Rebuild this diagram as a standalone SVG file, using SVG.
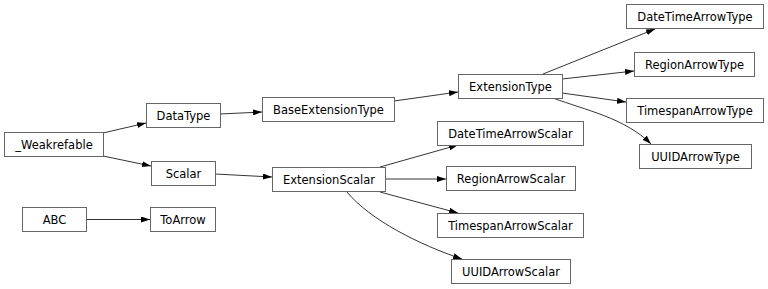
<svg xmlns="http://www.w3.org/2000/svg" width="768" height="289" viewBox="0 0 768 289">
<style>
.n rect{fill:#fff;stroke:#666;stroke-width:1}
.n text{font-family:"DejaVu Sans",sans-serif;font-size:11.5px;fill:#000;text-anchor:middle;dominant-baseline:central}
#edges path{fill:none;stroke:#000;stroke-width:0.8;marker-end:url(#ah)}
</style>
<defs>
<marker id="ah" viewBox="0 0 9 6" refX="9" refY="3" markerWidth="9" markerHeight="6" markerUnits="userSpaceOnUse" orient="auto">
<path d="M0,0 L9,3 L0,6 Z" fill="#000"/>
</marker>
</defs>
<rect width="768" height="289" fill="#fff"/>
<g id="edges">
<path d="M103,133 L146,123"/>
<path d="M103,156 L151,166"/>
<path d="M220,114 L262,112"/>
<path d="M215,174 L272,177"/>
<path d="M86,219.5 L150,219.5"/>
<path d="M394,101 L458,92"/>
<path d="M543,74 L655,29"/>
<path d="M562,79 L634,71"/>
<path d="M562,93 L626,102"/>
<path d="M553,98 C585,110 625,118 651,144"/>
<path d="M380,167 L458,145"/>
<path d="M385,179 L446,179"/>
<path d="M380,192 L458,213"/>
<path d="M347,192 C370,220 420,245 462,259"/>
</g>
<g id="Weakrefable" class="n"><rect x="4.5" y="132.5" width="99" height="24"/><text x="54" y="144.5">_Weakrefable</text></g>
<g id="DataType" class="n"><rect x="146.5" y="103.5" width="74" height="24"/><text x="183.5" y="115.5">DataType</text></g>
<g id="Scalar" class="n"><rect x="151.5" y="161.5" width="64" height="24"/><text x="183.5" y="173.5">Scalar</text></g>
<g id="ABC" class="n"><rect x="22.5" y="207.5" width="64" height="24"/><text x="54.5" y="219.5">ABC</text></g>
<g id="ToArrow" class="n"><rect x="150.5" y="207.5" width="65" height="24"/><text x="183" y="219.5">ToArrow</text></g>
<g id="BaseExtensionType" class="n"><rect x="262.5" y="97.5" width="132" height="24"/><text x="328.5" y="109.5">BaseExtensionType</text></g>
<g id="ExtensionScalar" class="n"><rect x="272.5" y="167.5" width="113" height="24"/><text x="329" y="179.5">ExtensionScalar</text></g>
<g id="ExtensionType" class="n"><rect x="458.5" y="74.5" width="104" height="24"/><text x="510.5" y="86.5">ExtensionType</text></g>
<g id="DateTimeArrowType" class="n"><rect x="626.5" y="4.5" width="137" height="24"/><text x="695" y="16.5">DateTimeArrowType</text></g>
<g id="RegionArrowType" class="n"><rect x="634.5" y="52.5" width="120" height="24"/><text x="694.5" y="64.5">RegionArrowType</text></g>
<g id="TimespanArrowType" class="n"><rect x="626.5" y="98.5" width="137" height="24"/><text x="695" y="110.5">TimespanArrowType</text></g>
<g id="UUIDArrowType" class="n"><rect x="639.5" y="144.5" width="112" height="24"/><text x="695.5" y="156.5">UUIDArrowType</text></g>
<g id="DateTimeArrowScalar" class="n"><rect x="437.5" y="121.5" width="146" height="24"/><text x="510.5" y="133.5">DateTimeArrowScalar</text></g>
<g id="RegionArrowScalar" class="n"><rect x="446.5" y="166.5" width="129" height="24"/><text x="511" y="178.5">RegionArrowScalar</text></g>
<g id="TimespanArrowScalar" class="n"><rect x="437.5" y="213.5" width="146" height="24"/><text x="510.5" y="225.5">TimespanArrowScalar</text></g>
<g id="UUIDArrowScalar" class="n"><rect x="451.5" y="259.5" width="119" height="24"/><text x="511" y="271.5">UUIDArrowScalar</text></g>
</svg>
